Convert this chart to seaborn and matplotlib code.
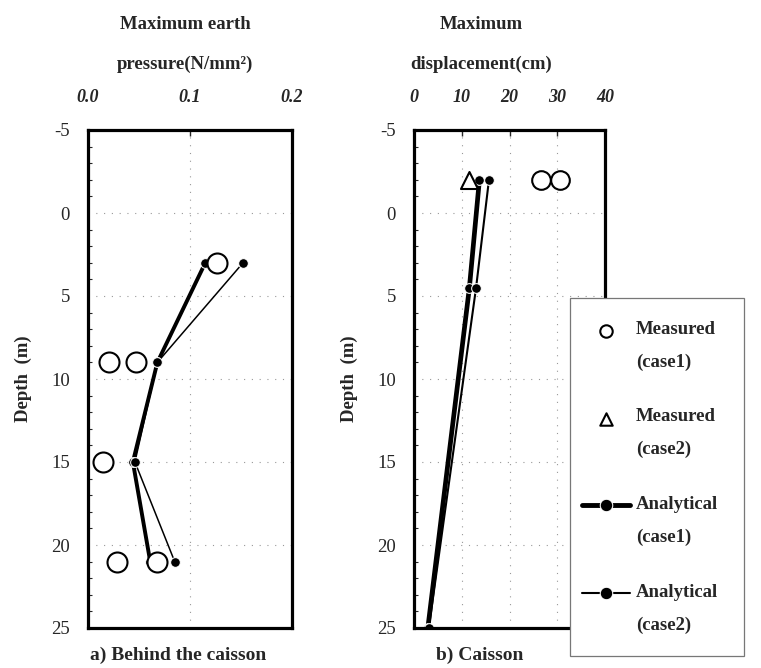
import matplotlib
matplotlib.use('Agg')
import matplotlib.pyplot as plt
import matplotlib.transforms as mtransforms
from matplotlib.lines import Line2D
from matplotlib.ticker import MultipleLocator
import seaborn as sns

sns.set_style('white')
plt.rcParams['font.family'] = ['Liberation Serif', 'DejaVu Serif']
plt.rcParams['axes.unicode_minus'] = False

# a) behind the caisson: max earth pressure (N/mm2) vs depth (m)
pres_meas_depth = [3, 9, 9, 15, 21, 21]
pres_meas = [0.126, 0.021, 0.047, 0.015, 0.028, 0.068]
pres_depth = [3, 9, 15, 21]
pres_ana_case1 = [0.115, 0.068, 0.044, 0.061]
pres_ana_case2 = [0.152, 0.068, 0.046, 0.085]

# b) caisson: max displacement (cm) vs depth (m)
disp_meas1_depth = [-2, -2]
disp_meas1 = [26.7, 30.6]
disp_meas2_depth = [-2]
disp_meas2 = [11.6]
disp_depth = [-2, 4.5, 25]
disp_ana_case1 = [13.7, 11.6, 2.9]
disp_ana_case2 = [15.7, 13.0, 3.1]

depth_ticks = [-5, 0, 5, 10, 15, 20, 25]
labels = ['Measured\n(case1)', 'Measured\n(case2)', 'Analytical\n(case1)', 'Analytical\n(case2)']

W, H = 761, 668
fig = plt.figure(figsize=(W / 100, H / 100), dpi=100)
ax1 = fig.add_axes([88 / W, 1 - 628 / H, (292 - 88) / W, (628 - 130) / H])
ax2 = fig.add_axes([414 / W, 1 - 628 / H, (605 - 414) / W, (628 - 130) / H])


def style_axes(ax, xlim, xticks, xticklabels, xlabel, label_x):
    ax.set_xlim(*xlim)
    ax.set_ylim(25, -5)
    ax.xaxis.tick_top()
    ax.xaxis.set_label_position('top')
    ax.set_xticks(xticks)
    ax.set_xticklabels(xticklabels)
    ax.set_yticks(depth_ticks)
    ax.yaxis.set_minor_locator(MultipleLocator(1))
    ax.tick_params(axis='x', direction='in', length=4, width=1, pad=17, labelsize=13)
    ax.tick_params(axis='y', which='major', direction='in', length=5, width=1, pad=13, labelsize=13.5)
    ax.tick_params(axis='y', which='minor', direction='in', length=3, width=0.8, left=True)
    for lab in ax.get_xticklabels():
        lab.set_fontweight('bold')
        lab.set_fontstyle('italic')
    for sp in ax.spines.values():
        sp.set_linewidth(2.3)
        sp.set_color('black')
    ax.grid(True, linestyle=(0, (1, 6)), color='#999999', linewidth=0.8)
    ax.set_axisbelow(True)
    ax.set_xlabel(xlabel, fontsize=13.5, fontweight='bold', labelpad=15, linespacing=2.7)
    ax.xaxis.label.set_x(label_x)
    ax.set_ylabel('Depth  (m)', fontsize=13.5, fontweight='bold', labelpad=14)


# panel a
sns.lineplot(x=pres_ana_case1, y=pres_depth, ax=ax1, sort=False, estimator=None,
             color='black', linewidth=2.8, marker='o', markersize=7, legend=False)
sns.lineplot(x=pres_ana_case2, y=pres_depth, ax=ax1, sort=False, estimator=None,
             color='black', linewidth=1.1, marker='o', markersize=7, legend=False)
sns.scatterplot(x=pres_meas, y=pres_meas_depth, ax=ax1, marker='o', s=207,
                color='white', edgecolor='black', linewidth=1.5, zorder=3, legend=False)
style_axes(ax1, (0, 0.2), [0.0, 0.1, 0.2], ['0.0', '0.1', '0.2'],
           'Maximum earth\npressure(N/mm²)', 0.475)

# panel b
sns.lineplot(x=disp_ana_case1, y=disp_depth, ax=ax2, sort=False, estimator=None,
             color='black', linewidth=3.4, marker='o', markersize=7, legend=False,
             label=labels[2])
sns.lineplot(x=disp_ana_case2, y=disp_depth, ax=ax2, sort=False, estimator=None,
             color='black', linewidth=1.5, marker='o', markersize=7, legend=False,
             label=labels[3])
sns.scatterplot(x=disp_meas1, y=disp_meas1_depth, ax=ax2, marker='o', s=180,
                color='white', edgecolor='black', linewidth=1.5, zorder=3, legend=False,
                label=labels[0])
sns.scatterplot(x=disp_meas2, y=disp_meas2_depth, ax=ax2, marker='^', s=150,
                color='white', edgecolor='black', linewidth=1.5, zorder=3, legend=False,
                label=labels[1])
style_axes(ax2, (0, 40), [0, 10, 20, 30, 40], ['0', '10', '20', '30', '40'],
           'Maximum\ndisplacement(cm)', 0.35)

# captions
fig.text(178 / W, 1 - 655 / H, 'a) Behind the caisson', ha='center', va='center',
         fontsize=14, fontweight='bold')
fig.text(480 / W, 1 - 655 / H, 'b) Caisson', ha='center', va='center',
         fontsize=14, fontweight='bold')

# legend
hs, ls = ax2.get_legend_handles_labels()
lookup = dict(zip(ls, hs))
handles = [lookup[l] for l in labels]
leg = fig.legend(handles, labels, loc='upper left',
                 bbox_to_anchor=(570 / W, 1 - 658 / H, (744 - 570) / W, (658 - 298) / H),
                 bbox_transform=fig.transFigure, mode='expand', borderaxespad=0,
                 frameon=True, fancybox=False, framealpha=1, edgecolor='#777777',
                 prop={'weight': 'bold', 'size': 13.5}, handlelength=2.6,
                 handletextpad=0.2, labelspacing=2.0, borderpad=1.2)
leg.get_frame().set_linewidth(0.9)
# handles sit beside the first text line; whole content nudged left
handle_shift = mtransforms.ScaledTranslation(-0.11, 0.16, fig.dpi_scale_trans)
text_shift = mtransforms.ScaledTranslation(-0.09, 0, fig.dpi_scale_trans)
for t in leg.get_texts():
    t.set_linespacing(2.2)
    t.set_transform(t.get_transform() + text_shift)
for h in leg.legend_handles:
    if isinstance(h, Line2D):
        h.set_transform(h.get_transform() + handle_shift)
        h.set_markersize(9)
    else:
        h.set_offset_transform(h.get_offset_transform() + handle_shift)
        h.set_sizes([80])
leg.legend_handles[2].set_linewidth(3.5)
leg.legend_handles[3].set_linewidth(1.5)

fig.savefig('out.png', dpi=100)
